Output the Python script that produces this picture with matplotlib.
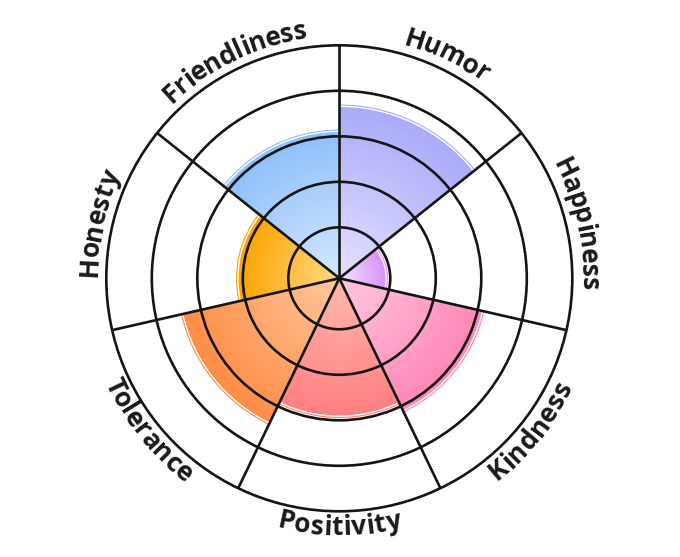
import numpy as np
import matplotlib
matplotlib.use('Agg')
import matplotlib.pyplot as plt
from matplotlib.font_manager import FontProperties
from matplotlib.colors import to_rgb

# ---- data ----
categories = ['Humor', 'Happiness', 'Kindness', 'Positivity', 'Tolerance', 'Honesty', 'Friendliness']
values = [3.7, 0.95, 3.15, 2.95, 3.45, 2.15, 3.15]
inner_colors = ['#e4e2ff', '#f5e6ff', '#ffc9e0', '#ffb9b0', '#ffc9a0', '#ffdb85', '#d6e8ff']
outer_colors = ['#aaaaf9', '#d690f7', '#ff86b8', '#ff7f7f', '#ff8c44', '#fca300', '#8ebffa']
ring_ticks = [1, 2, 3, 4]
r_min, r_max = -0.12, 5

# ---- layout ----
W, H, DPI = 6.8, 5.57, 100
CX, CY, R = 339.3, 278.7, 233.0   # pixel centre (from bottom) and radius

fig = plt.figure(figsize=(W, H), dpi=DPI)
ax = fig.add_axes([(CX - R) / (W * DPI), (CY - R) / (H * DPI), 2 * R / (W * DPI), 2 * R / (H * DPI)],
                  projection='polar')
ax.set_theta_zero_location('N')
ax.set_theta_direction(-1)
ax.set_ylim(r_min, r_max)

n = len(categories)
width = 2 * np.pi / n
starts = np.arange(n) * width

NS = 70
for i in range(n):
    c0 = np.array(to_rgb(inner_colors[i]))
    c1 = np.array(to_rgb(outer_colors[i]))
    full = values[i] - r_min
    for k in range(NS, 0, -1):
        t = k / NS
        ax.bar(starts[i], full * t, width=width, bottom=r_min, align='edge',
               color=c0 + (c1 - c0) * t, linewidth=0, zorder=1)
    ax.bar(starts[i], full - 0.04, width=width, bottom=r_min, align='edge',
           fill=False, edgecolor='white', linewidth=1.0, zorder=1.2)

ax.set_yticks(ring_ticks)
ax.set_yticklabels([])
ax.set_xticks(starts)
ax.set_xticklabels([])
ax.tick_params(length=0)
ax.grid(True, color='#151515', linewidth=1.9)
ax.set_axisbelow(False)
ax.spines['polar'].set_color('#151515')
ax.spines['polar'].set_linewidth(1.9)

# ---- curved labels ----
FS = 19
fp = FontProperties(family='Open Sans', weight='bold', size=FS)
fig.canvas.draw()
renderer = fig.canvas.get_renderer()


def tw(s):
    if not s:
        return 0.0
    w, h, d = renderer.get_text_width_height_descent(s, fp, ismath=False)
    return w


def px_to_r(px):
    return px / R * (r_max - r_min) + r_min


cap = 0.714 * FS * DPI / 72.0
for i, lab in enumerate(categories):
    centre = starts[i] + width / 2
    flip = np.pi / 2 < centre < 3 * np.pi / 2
    total = tw(lab)
    if flip:
        rb = R + 5 + cap
        rs = rb - cap / 2
    else:
        rb = R + 9
        rs = rb + cap / 2
    for j, ch in enumerate(lab):
        s = (tw(lab[:j]) + tw(lab[:j + 1])) / 2 - total / 2
        if flip:
            a = centre - s / rs
            rot = 180 - np.degrees(a)
        else:
            a = centre + s / rs
            rot = -np.degrees(a)
        ax.text(a, px_to_r(rb), ch, fontproperties=fp, color='#1a1a1a',
                rotation=rot, rotation_mode='anchor', ha='center', va='baseline',
                clip_on=False)

fig.savefig('out.png', dpi=DPI)
